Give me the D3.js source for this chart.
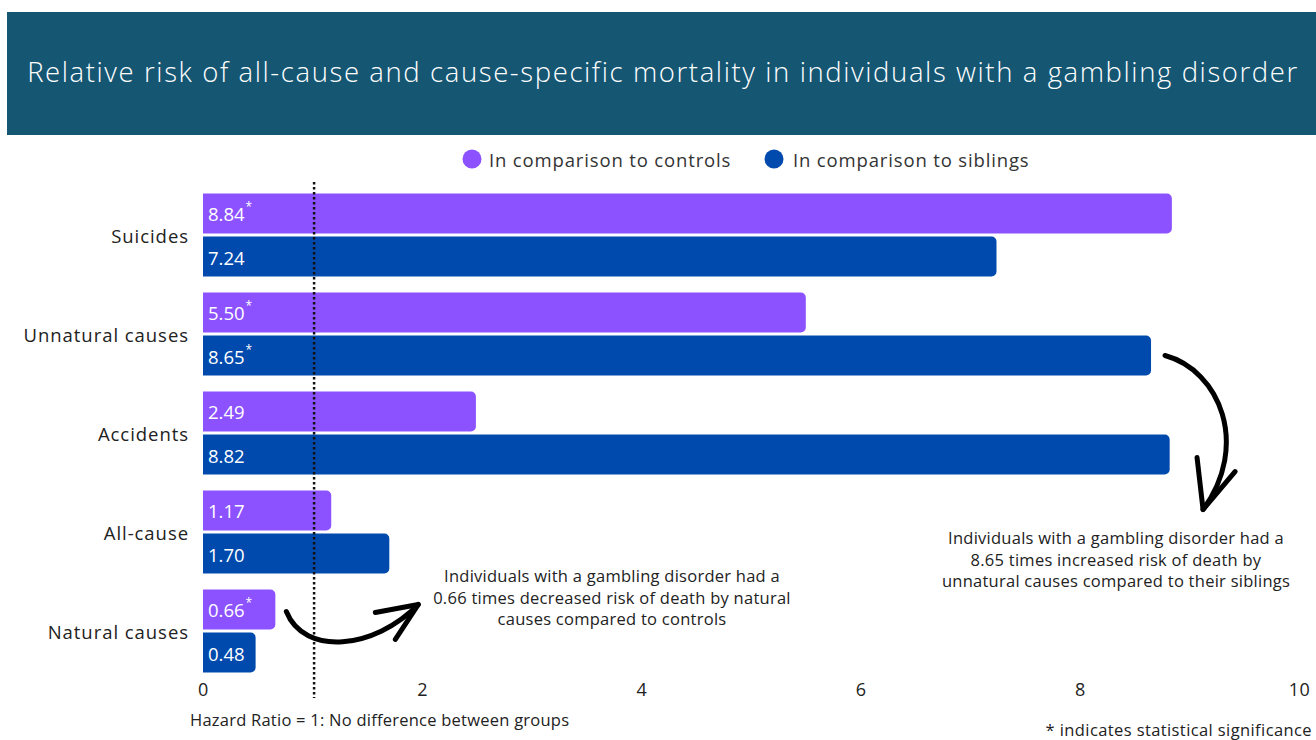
<!DOCTYPE html>
<html>
<head>
<meta charset="utf-8">
<script src="https://cdn.jsdelivr.net/npm/d3@7"></script>
<style>
  html, body { margin: 0; padding: 0; background: #ffffff; }
  svg { display: block; }
  text { font-family: "Open Sans", "Noto Sans", sans-serif; }
</style>
</head>
<body>
<svg id="chart" width="1316" height="740"></svg>
<script>
// ---- Data ----
const title = "Relative risk of all-cause and cause-specific mortality in individuals with a gambling disorder";
const categories = ["Suicides", "Unnatural causes", "Accidents", "All-cause", "Natural causes"];
const seriesNames = ["In comparison to controls", "In comparison to siblings"];
const controlsValues = [8.84, 5.50, 2.49, 1.17, 0.66];
const siblingsValues = [7.24, 8.65, 8.82, 1.70, 0.48];
const controlsSignificant = [true, true, false, false, true];
const siblingsSignificant = [false, true, false, false, false];
const tickValues = [0, 2, 4, 6, 8, 10];
const referenceValue = 1;
const noteLeft = ["Individuals with a gambling disorder had a", "0.66 times decreased risk of death by natural", "causes compared to controls"];
const noteRight = ["Individuals with a gambling disorder had a", "8.65 times increased risk of death by", "unnatural causes compared to their siblings"];
const footLeft = "Hazard Ratio = 1: No difference between groups";
const footRight = "* indicates statistical significance";

const colors = ["#8c52ff", "#004aad"];
const bannerColor = "#155673";
const textColor = "#222222";

const svg = d3.select("#chart");

// ---- Banner ----
svg.append("rect").attr("x", 7).attr("y", 12).attr("width", 1309).attr("height", 123).attr("fill", bannerColor);
svg.append("text").attr("x", 663).attr("y", 71).attr("text-anchor", "middle").attr("dominant-baseline", "central")
  .attr("fill", "#ffffff").attr("font-size", 27.5).attr("font-weight", 300).attr("letter-spacing", 1.6).text(title);

// ---- Scales ----
const x = d3.scaleLinear().domain([0, 10]).range([203, 1299]);
const y = d3.scaleBand().domain(categories).range([185.5, 680.5]).paddingInner(16 / 99).paddingOuter(8 / 99);
const ySub = d3.scaleBand().domain(seriesNames).range([0, y.bandwidth()]).paddingInner(3 / 41.5);

const rows = categories.map((c, i) => ({
  category: c,
  bars: [
    { series: seriesNames[0], value: controlsValues[i], sig: controlsSignificant[i], color: colors[0] },
    { series: seriesNames[1], value: siblingsValues[i], sig: siblingsSignificant[i], color: colors[1] }
  ]
}));

// ---- Legend ----
const legendItems = [{ name: seriesNames[0], cx: 472, tx: 489 }, { name: seriesNames[1], cx: 774, tx: 793 }];
const legend = svg.append("g");
legendItems.forEach((d, i) => {
  legend.append("circle").attr("cx", d.cx).attr("cy", 159).attr("r", 9.5).attr("fill", colors[i]);
  legend.append("text").attr("x", d.tx).attr("y", 159).attr("dominant-baseline", "central")
    .attr("font-size", 18.5).attr("letter-spacing", 0.85).attr("fill", "#333").text(d.name);
});

// ---- Bars ----
function rightRounded(x0, y0, w, h, r) {
  r = Math.min(r, w, h / 2);
  const p = d3.path();
  p.moveTo(x0, y0);
  p.lineTo(x0 + w - r, y0);
  p.arcTo(x0 + w, y0, x0 + w, y0 + r, r);
  p.lineTo(x0 + w, y0 + h - r);
  p.arcTo(x0 + w, y0 + h, x0 + w - r, y0 + h, r);
  p.lineTo(x0, y0 + h);
  p.closePath();
  return p.toString();
}

const groups = svg.append("g").selectAll("g").data(rows).join("g")
  .attr("transform", d => `translate(0,${y(d.category)})`);

groups.selectAll("path").data(d => d.bars).join("path")
  .attr("d", d => rightRounded(x(0), ySub(d.series), x(d.value) - x(0), ySub.bandwidth(), 5))
  .attr("fill", d => d.color);

const labels = groups.selectAll("text.val").data(d => d.bars).join("text")
  .attr("class", "val")
  .attr("x", x(0) + 5)
  .attr("y", d => ySub(d.series) + ySub.bandwidth() / 2)
  .attr("dominant-baseline", "central")
  .attr("fill", "#ffffff")
  .attr("font-size", 18.5);
labels.append("tspan").text(d => d.value.toFixed(2));
labels.filter(d => d.sig).append("tspan").attr("dx", 1).attr("dy", -7).attr("font-size", 12).text("*");

// ---- Category labels ----
svg.append("g").selectAll("text").data(categories).join("text")
  .attr("x", 189).attr("y", d => y(d) + y.bandwidth() / 2)
  .attr("text-anchor", "end").attr("dominant-baseline", "central")
  .attr("font-size", 18.5).attr("letter-spacing", 0.95).attr("fill", textColor).text(d => d);

// ---- X axis ----
const axis = svg.append("g").attr("transform", "translate(0,683)")
  .call(d3.axisBottom(x).tickValues(tickValues).tickSize(0).tickPadding(0).tickFormat(d3.format("d")));
axis.select(".domain").remove();
axis.selectAll("text").attr("font-size", 18).attr("letter-spacing", 0.5).attr("fill", textColor)
  .attr("font-family", '"Open Sans", "Noto Sans", sans-serif');

// ---- Reference line ----
svg.append("line").attr("x1", x(referenceValue) + 1.5).attr("x2", x(referenceValue) + 1.5)
  .attr("y1", 182).attr("y2", 698)
  .attr("stroke", "#111").attr("stroke-width", 2.5).attr("stroke-dasharray", "2.5,2.5");

// ---- Annotations ----
function multiline(lines, cx, cy0, lh, size, ls) {
  svg.append("g").selectAll("text").data(lines).join("text")
    .attr("x", cx).attr("y", (d, i) => cy0 + i * lh)
    .attr("text-anchor", "middle").attr("dominant-baseline", "central")
    .attr("font-size", size).attr("letter-spacing", ls).attr("fill", textColor).text(d => d);
}
multiline(noteLeft, 612, 575.5, 21.5, 16.5, 0.26);
multiline(noteRight, 1116, 537.5, 21.5, 16.5, 0.26);

svg.append("text").attr("x", 190).attr("y", 719).attr("dominant-baseline", "central")
  .attr("font-size", 16.5).attr("letter-spacing", 0.24).attr("fill", textColor).text(footLeft);
svg.append("text").attr("x", 1312).attr("y", 729).attr("text-anchor", "end").attr("dominant-baseline", "central")
  .attr("font-size", 16.5).attr("letter-spacing", 0.4).attr("fill", textColor).text(footRight);

// ---- Arrows (anchored to bars) ----
const arrowStyle = g => g.attr("fill", "none").attr("stroke", "#000").attr("stroke-width", 5)
  .attr("stroke-linecap", "round").attr("stroke-linejoin", "round");

// left: from Natural causes / controls bar
const ax0 = x(controlsValues[4]) + 11;
const ay0 = y(categories[4]) + ySub(seriesNames[0]) + ySub.bandwidth() / 2 + 2;
const la = svg.append("g").call(arrowStyle);
la.append("path").attr("d", `M${ax0},${ay0} C${ax0 + 18},${ay0 + 45} ${ax0 + 88},${ay0 + 38} ${ax0 + 132},${ay0 - 7}`);
la.append("path").attr("d", `M${ax0 + 89},${ay0 + 1} L${ax0 + 132},${ay0 - 7} L${ax0 + 109},${ay0 + 28}`);

// right: from Unnatural causes / siblings bar
const bx0 = x(siblingsValues[1]) + 14;
const by0 = y(categories[1]) + ySub(seriesNames[1]) + ySub.bandwidth() / 2;
const ra = svg.append("g").call(arrowStyle);
ra.append("path").attr("d", `M${bx0},${by0} C${bx0 + 55},${by0 + 15} ${bx0 + 85},${by0 + 90} ${bx0 + 38},${by0 + 154}`);
ra.append("path").attr("d", `M${bx0 + 32},${by0 + 102} L${bx0 + 38},${by0 + 154} L${bx0 + 70},${by0 + 116}`);
</script>
</body>
</html>
